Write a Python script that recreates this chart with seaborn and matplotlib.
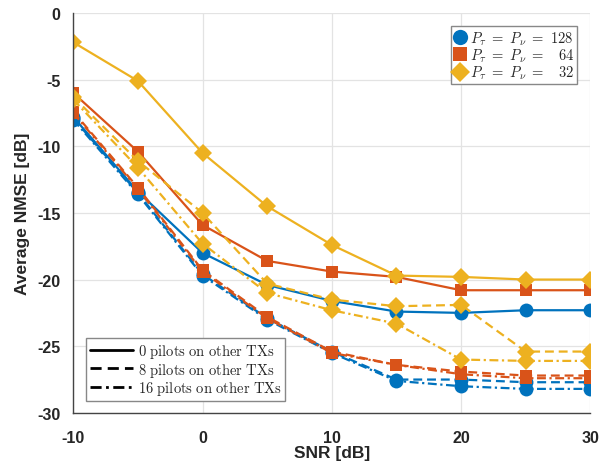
import numpy as np
import pandas as pd
import matplotlib
matplotlib.use('Agg')
import matplotlib.pyplot as plt
from matplotlib.lines import Line2D
import seaborn as sns

# ---------------- data ----------------
snr = [-10, -5, 0, 5, 10, 15, 20, 25, 30]

# P = 128 (blue)
p128_0 = [-7.8, -13.4, -18.0, -20.4, -21.6, -22.4, -22.5, -22.3, -22.3]
p128_8 = [-7.9, -13.5, -19.6, -22.9, -25.4, -27.5, -27.5, -27.7, -27.7]
p128_16 = [-8.0, -13.6, -19.7, -23.0, -25.5, -27.6, -28.0, -28.2, -28.2]
# P = 64 (orange)
p64_0 = [-6.0, -10.4, -15.9, -18.6, -19.4, -19.8, -20.8, -20.8, -20.8]
p64_8 = [-7.4, -13.1, -19.3, -22.8, -25.4, -26.4, -26.9, -27.2, -27.2]
p64_16 = [-7.5, -13.2, -19.4, -22.9, -25.5, -26.4, -27.1, -27.4, -27.4]
# P = 32 (yellow)
p32_0 = [-2.2, -5.1, -10.5, -14.5, -17.4, -19.7, -19.8, -20.0, -20.0]
p32_8 = [-6.3, -11.1, -15.0, -20.3, -21.5, -22.0, -21.9, -25.4, -25.4]
p32_16 = [-6.5, -11.6, -17.3, -21.0, -22.3, -23.3, -26.0, -26.1, -26.1]

pilot_labels = ['0 pilots on other TXs', '8 pilots on other TXs', '16 pilots on other TXs']
p_labels = [r'$P_\tau\ =\ P_\nu\ =\ 128$', r'$P_\tau\ =\ P_\nu\ =\ \ \ 64$', r'$P_\tau\ =\ P_\nu\ =\ \ \ 32$']

series = {
    128: [p128_0, p128_8, p128_16],
    64: [p64_0, p64_8, p64_16],
    32: [p32_0, p32_8, p32_16],
}

colors = {128: '#0072BD', 64: '#D95319', 32: '#EDB120'}
markers = {128: 'o', 64: 's', 32: 'D'}
msizes = {128: 10, 64: 9, 32: 9}
styles = ['-', (0, (4, 2.2)), (0, (4, 1.6, 1, 1.6))]

# ---------------- plot ----------------
sns.set_style('white')
plt.rcParams['mathtext.fontset'] = 'cm'
plt.rcParams['axes.unicode_minus'] = False
plt.rcParams['font.family'] = ['Liberation Sans', 'DejaVu Sans']

fig = plt.figure(figsize=(6, 4.64), dpi=100)
ax = fig.add_axes([0.122, 0.108, 0.862, 0.862])

for p in [128, 64, 32]:
    for k, vals in enumerate(series[p]):
        df = pd.DataFrame({'snr': snr, 'nmse': vals})
        sns.lineplot(x='snr', y='nmse', data=df, ax=ax, color=colors[p],
                     marker=markers[p], markersize=msizes[p], markeredgewidth=0,
                     linewidth=1.6, linestyle=styles[k], legend=False)

ax.set_xlim(-10, 30)
ax.set_ylim(-30, 0)
ax.set_xticks([-10, 0, 10, 20, 30])
ax.set_yticks([0, -5, -10, -15, -20, -25, -30])
ax.grid(True, color='#e3e3e3', linewidth=0.9)
ax.set_axisbelow(True)
for s in ['top', 'right']:
    ax.spines[s].set_visible(False)
for s in ['left', 'bottom']:
    ax.spines[s].set_color('#444444')
    ax.spines[s].set_linewidth(1.0)
ax.tick_params(direction='in', length=5, width=1, color='#444444', labelsize=11.5)
ax.tick_params(axis='x', pad=12)
ax.tick_params(axis='y', pad=9)
for lab in ax.get_xticklabels() + ax.get_yticklabels():
    lab.set_fontweight('bold')
ax.set_xlabel('SNR [dB]', fontsize=12.5, fontweight='bold', labelpad=0)
ax.set_ylabel('Average NMSE [dB]', fontsize=12.5, fontweight='bold', labelpad=5)

# legend for P values
h1 = [Line2D([], [], color=colors[p], marker=markers[p], markersize=msizes[p] + 1,
             markeredgewidth=0, linestyle='none') for p in [128, 64, 32]]
leg1 = ax.legend(h1, p_labels, loc='upper right', bbox_to_anchor=(0.975, 0.967),
                 borderaxespad=0, fontsize=10.5, handlelength=0.8, handletextpad=0.3,
                 borderpad=0.2, labelspacing=0.0, frameon=True, fancybox=False,
                 edgecolor='#888888', framealpha=1)
leg1.get_frame().set_linewidth(1.0)
ax.add_artist(leg1)

# legend for pilot line styles
h2 = [Line2D([], [], color='black', linestyle=st, linewidth=2.0) for st in styles]
lab2 = [r'$\mathrm{%s}$' % t.replace(' ', r'\ ') for t in pilot_labels]
leg2 = ax.legend(h2, lab2, loc='lower left', bbox_to_anchor=(0.0245, 0.03),
                 borderaxespad=0, fontsize=10.5, handlelength=3.0, handletextpad=0.3,
                 borderpad=0.25, labelspacing=0.05, frameon=True, fancybox=False,
                 edgecolor='#888888', framealpha=1)
leg2.get_frame().set_linewidth(1.0)

fig.savefig('out.png', dpi=100)
